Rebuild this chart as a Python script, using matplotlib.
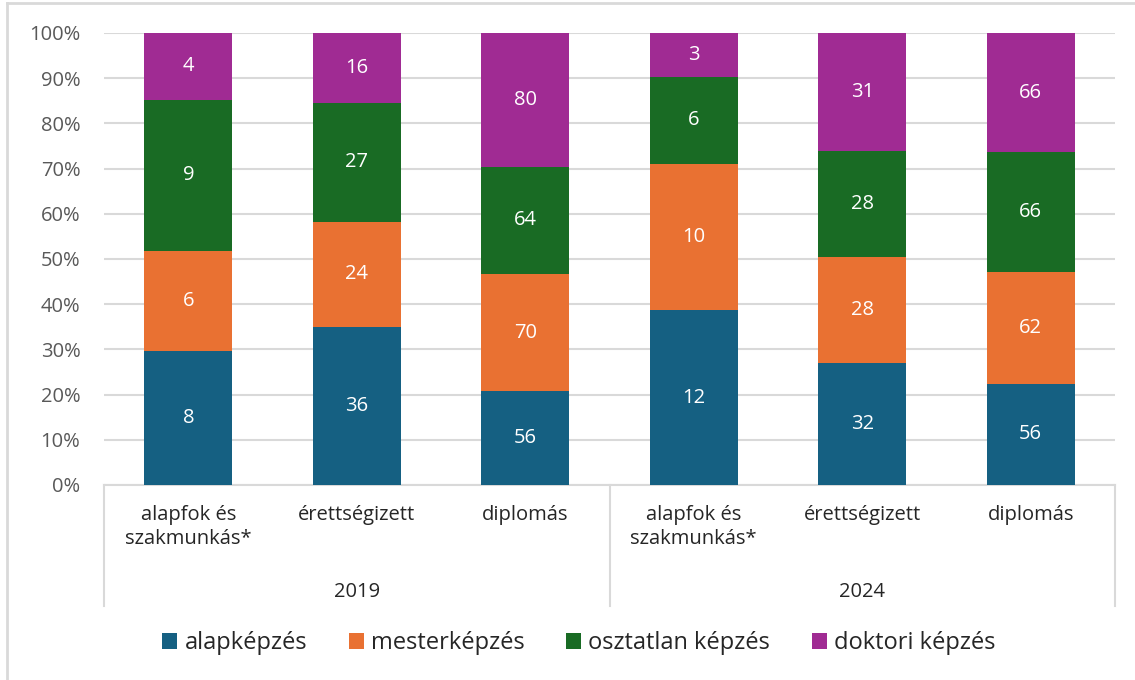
import numpy as np
import matplotlib.pyplot as plt
from matplotlib.lines import Line2D
from matplotlib.patches import Patch

plt.rcParams['font.family'] = ['Open Sans', 'DejaVu Sans']

years = ['2019', '2024']
groups = ['alapfok és\nszakmunkás*', 'érettségizett', 'diplomás']
series = ['alapképzés', 'mesterképzés', 'osztatlan képzés', 'doktori képzés']
colors = ['#156082', '#E97132', '#196B24', '#A02B93']

# darabszámok, sorrend: 2019 (3 csoport), 2024 (3 csoport)
alap = [8, 36, 56, 12, 32, 56]
mester = [6, 24, 70, 10, 28, 62]
osztatlan = [9, 27, 64, 6, 28, 66]
doktori = [4, 16, 80, 3, 31, 66]

counts = np.array([alap, mester, osztatlan, doktori], dtype=float)
shares = counts / counts.sum(axis=0) * 100

fig = plt.figure(figsize=(11.35, 6.8), dpi=100)
ax = fig.add_axes([104 / 1135, 195 / 680, 1011 / 1135, 452 / 680])

x = np.arange(6)
bottom = np.zeros(6)
for i, name in enumerate(series):
    ax.bar(x, shares[i], bottom=bottom, width=0.52, color=colors[i], zorder=3)
    for j in range(6):
        ax.text(x[j], bottom[j] + shares[i][j] / 2, f'{int(counts[i][j])}',
                ha='center', va='center', color='white', fontsize=14.5, zorder=4)
    bottom += shares[i]

ax.set_xlim(-0.5, 5.5)
ax.set_ylim(0, 100)
ax.set_yticks(range(0, 101, 10))
ax.set_yticklabels([f'{v}%' for v in range(0, 101, 10)], fontsize=14.5, color='#595959')
ax.yaxis.grid(True, color='#D9D9D9', linewidth=1.5, zorder=0)
ax.tick_params(axis='y', length=0, pad=17)
ax.tick_params(axis='x', length=0, labelbottom=False)
for s in ['top', 'right', 'left']:
    ax.spines[s].set_visible(False)
ax.spines['bottom'].set_color('#D9D9D9')
ax.spines['bottom'].set_linewidth(1.5)

# kategória címkék
trans = ax.get_xaxis_transform()
for j in range(6):
    ax.text(x[j], -0.045, groups[j % 3], transform=trans, ha='center', va='top',
            fontsize=14.5, color='#262626', linespacing=1.25)
for k, yr in enumerate(years):
    ax.text(1 + 3 * k, -0.215, yr, transform=trans, ha='center', va='top',
            fontsize=14.5, color='#262626')
for xv in [-0.5, 2.5, 5.5]:
    ax.add_line(Line2D([xv, xv], [0, -0.267], transform=trans, color='#D9D9D9',
                       linewidth=1.5, clip_on=False))

handles = [Patch(facecolor=c) for c in colors]
fig.legend(handles, series, loc='center', bbox_to_anchor=(0.51, 1 - 643 / 680),
           ncol=4, frameon=False, fontsize=17, handlelength=0.65, handleheight=0.65,
           handletextpad=0.3, columnspacing=1.75, labelcolor='#262626')

# keret
fig.add_artist(Line2D([7 / 1135, 7 / 1135], [0, 677 / 680], transform=fig.transFigure,
                      color='#D9D9D9', linewidth=2))
fig.add_artist(Line2D([7 / 1135, 1], [677 / 680, 677 / 680], transform=fig.transFigure,
                      color='#D9D9D9', linewidth=2))

fig.savefig('out.png', dpi=100)
